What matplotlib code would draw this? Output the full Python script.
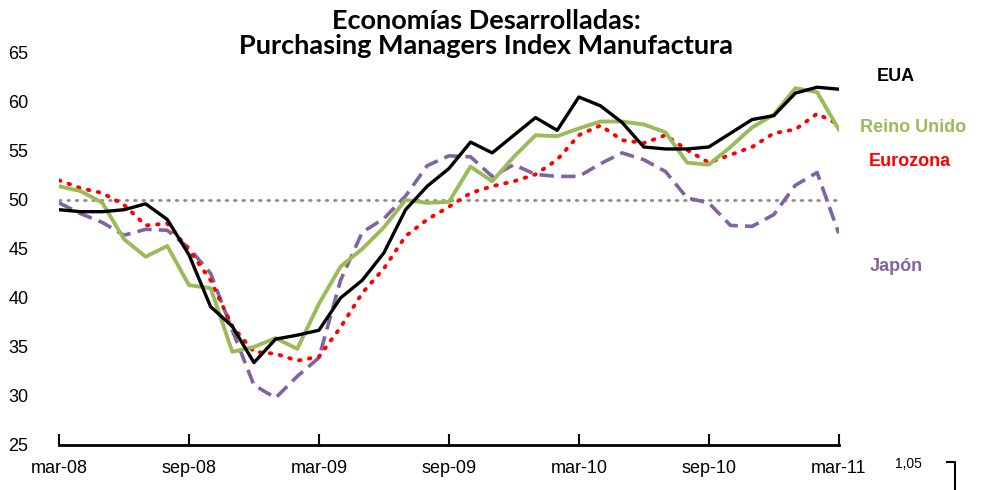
import numpy as np
import matplotlib.pyplot as plt

# PMI manufactura, mensual mar-08 .. mar-11
meses = np.arange(37)
etiquetas = ["mar-08", "sep-08", "mar-09", "sep-09", "mar-10", "sep-10", "mar-11"]

eua = [49.0, 48.8, 48.8, 49.0, 49.6, 48.0, 44.4, 39.1, 37.1, 33.4, 35.8, 36.2,
       36.7, 40.0, 41.8, 44.6, 49.0, 51.4, 53.2, 55.9, 54.8, 56.6, 58.4, 57.1,
       60.5, 59.6, 57.9, 55.4, 55.2, 55.2, 55.4, 56.8, 58.2, 58.6, 60.9, 61.5, 61.3]
reino_unido = [51.4, 50.9, 49.7, 46.0, 44.2, 45.3, 41.3, 41.0, 34.5, 35.0, 35.9, 34.8,
               39.4, 43.2, 45.0, 47.2, 50.0, 49.7, 49.8, 53.4, 51.9, 54.4, 56.6, 56.5,
               57.3, 58.0, 58.0, 57.7, 56.9, 53.8, 53.6, 55.4, 57.4, 58.7, 61.4, 61.0, 57.2]
eurozona = [52.0, 51.2, 50.7, 49.5, 47.4, 47.6, 44.9, 41.8, 37.1, 34.5, 34.3, 33.6,
            34.0, 37.0, 40.5, 43.0, 46.3, 48.0, 49.3, 50.7, 51.4, 51.9, 52.6, 54.1,
            56.6, 57.6, 56.1, 55.8, 56.6, 55.1, 53.8, 54.6, 55.4, 56.8, 57.2, 58.8, 57.7]
japon = [49.7, 48.6, 47.7, 46.4, 47.0, 46.9, 45.1, 42.5, 36.7, 31.1, 29.8, 32.0,
         33.9, 41.8, 46.7, 48.1, 50.4, 53.5, 54.5, 54.4, 52.4, 53.6, 52.6, 52.4,
         52.4, 53.7, 54.8, 54.1, 52.9, 50.2, 49.7, 47.4, 47.3, 48.5, 51.5, 52.8, 46.6]

verde = "#9BBB59"
rojo = "#FF0000"
morado = "#8064A2"

plt.rcParams['font.family'] = ['Liberation Sans', 'DejaVu Sans']

fig = plt.figure(figsize=(9.92, 4.90), dpi=100)
ax = fig.add_axes([0.0595, 0.092, 0.786, 0.800])

ax.axhline(50, color="#8C8C8C", lw=2, ls=(0, (0.6, 2.4)), dash_capstyle="round")
ax.plot(meses, japon, color=morado, lw=2.6, ls=(0, (4, 2)))
ax.plot(meses, eurozona, color=rojo, lw=2.8, ls=(0, (0.4, 2.2)), dash_capstyle="round")
ax.plot(meses, reino_unido, color=verde, lw=2.8)
ax.plot(meses, eua, color="black", lw=2.4)

ax.set_xlim(0, 36)
ax.set_ylim(25, 65)
ax.set_yticks(np.arange(25, 66, 5))
ax.set_xticks(np.arange(0, 37, 6))
ax.set_xticklabels(etiquetas, family=['Liberation Sans Narrow', 'Liberation Sans'])
ax.tick_params(axis="y", length=0, pad=22, labelsize=13)
ax.tick_params(axis="x", direction="in", length=8, width=1.5, pad=11, labelsize=13)
for s in ["top", "right", "left"]:
    ax.spines[s].set_visible(False)
ax.spines["bottom"].set_linewidth(2)
ax.spines["bottom"].set_position(("data", 25))

fig.text(0.49, 0.982, "Economías Desarrolladas:\nPurchasing Managers Index Manufactura",
         ha="center", va="top", fontsize=19.5, fontweight="bold",
         family=['Lato', 'DejaVu Sans'], linespacing=1.05)

# etiquetas de series
fig.text(0.884, 0.835, "EUA", color="black", fontsize=13, fontweight="bold")
fig.text(0.867, 0.730, "Reino Unido", color=verde, fontsize=13, fontweight="bold")
fig.text(0.876, 0.662, "Eurozona", color=rojo, fontsize=13, fontweight="bold")
fig.text(0.877, 0.447, "Japón", color=morado, fontsize=13, fontweight="bold")

# resto de otra grafica
fig.text(0.902, 0.045, "1,05", fontsize=10)
fig.add_artist(plt.Line2D([0.955, 0.963, 0.963], [0.058, 0.058, 0.0], color="black", lw=1.5))

fig.savefig("out.png", dpi=100)
